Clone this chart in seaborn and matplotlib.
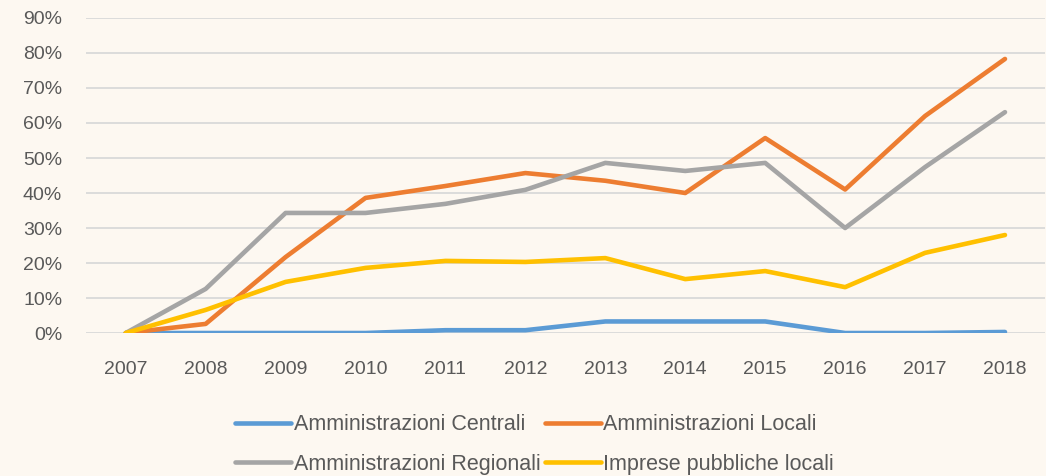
import matplotlib
matplotlib.use("Agg")
import matplotlib.pyplot as plt
import pandas as pd
import seaborn as sns
from matplotlib.ticker import PercentFormatter

years = ["2007", "2008", "2009", "2010", "2011", "2012",
         "2013", "2014", "2015", "2016", "2017", "2018"]
centrali = [0.0, 0.0, 0.0, 0.0, 0.8, 0.8, 3.3, 3.3, 3.3, 0.0, 0.0, 0.3]
locali = [0.0, 2.6, 21.7, 38.6, 42.0, 45.7, 43.5, 40.0, 55.7, 41.0, 62.0, 78.3]
regionali = [0.0, 12.6, 34.3, 34.3, 36.9, 40.9, 48.6, 46.3, 48.6, 30.0, 47.4, 63.1]
imprese = [0.0, 6.6, 14.6, 18.6, 20.6, 20.3, 21.4, 15.4, 17.7, 13.1, 22.9, 28.0]

series_names = ["Amministrazioni Centrali", "Amministrazioni Locali",
                "Amministrazioni Regionali", "Imprese pubbliche locali"]
colors = ["#5B9BD5", "#ED7D31", "#A5A5A5", "#FFC000"]

BG = "#FDF8F1"
TEXT = "#595959"

frames = []
for name, vals in zip(series_names, [centrali, locali, regionali, imprese]):
    frames.append(pd.DataFrame({"anno": years, "valore": vals, "serie": name}))
df = pd.concat(frames, ignore_index=True)

sns.set_theme(style="white")
plt.rcParams["font.family"] = ["Liberation Sans", "DejaVu Sans"]

fig = plt.figure(figsize=(10.46, 4.76), dpi=100, facecolor=BG)
ax = fig.add_axes([0.082, 0.3004, 0.917, 0.6618])
ax.set_facecolor(BG)

sns.lineplot(data=df, x="anno", y="valore", hue="serie", hue_order=series_names,
             palette=colors, linewidth=3.3, sort=False, ax=ax)

ax.set_xlim(-0.5, len(years) - 0.5)
ax.set_ylim(0, 90)
ax.set_yticks(range(0, 91, 10))
ax.yaxis.set_major_formatter(PercentFormatter(decimals=0))
ax.grid(axis="y", color="#D9D9D9", linewidth=1.3)
ax.set_axisbelow(True)
for s in ax.spines.values():
    s.set_visible(False)
ax.tick_params(axis="both", length=0, labelsize=14, labelcolor=TEXT)
ax.tick_params(axis="y", pad=17)
ax.tick_params(axis="x", pad=20)
ax.set_xlabel("")
ax.set_ylabel("")

# legend fills column-wise, so reorder to get the row layout of the original
handles, labels = ax.get_legend_handles_labels()
ax.get_legend().remove()
order = [0, 2, 1, 3]
fig.legend([handles[i] for i in order], [labels[i] for i in order], ncol=2,
           loc="upper center", bbox_to_anchor=(0.511, 0.17),
           frameon=False, fontsize=15.5, labelcolor=TEXT, handlelength=2.6,
           handletextpad=0.1, columnspacing=0.2, labelspacing=0.85)

fig.savefig("out.png", dpi=100, facecolor=BG)
